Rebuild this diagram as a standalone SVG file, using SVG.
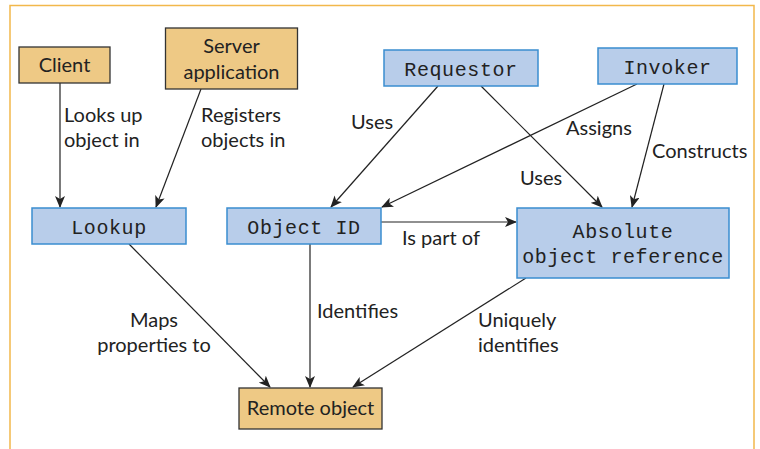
<svg xmlns="http://www.w3.org/2000/svg" width="760" height="449" viewBox="0 0 760 449">
<defs>
<marker id="ah" viewBox="0 0 12 10" refX="11" refY="5" markerWidth="12" markerHeight="10" markerUnits="userSpaceOnUse" orient="auto">
<path d="M0,0 L12,5 L0,10 L3,5 Z" fill="#222"/>
</marker>
<style>
.frame{fill:none;stroke:#F2B84B;stroke-width:1.5}
.on{fill:#EEC985;stroke:#333;stroke-width:1.3}
.bn{fill:#B8CDEA;stroke:#3A8DD0;stroke-width:1.5}
.st{font-family:Lato,"Open Sans",sans-serif;font-size:20px;fill:#222;text-anchor:middle}
.mt{font-family:"Liberation Mono","Courier New",monospace;font-size:20px;letter-spacing:0.6px;fill:#222;text-anchor:middle}
.lb{font-family:Lato,"Open Sans",sans-serif;font-size:20px;fill:#222}
.c{fill:none;stroke:#222;stroke-width:1.2;marker-end:url(#ah)}
</style>
</defs>
<rect width="760" height="449" fill="#fff"/>
<path class="frame" d="M10,460 V5.5 H754 V460"/>

<g id="connectors">
<line class="c" x1="60" y1="83" x2="60" y2="207"/>
<line class="c" x1="201" y1="89" x2="156" y2="207"/>
<line class="c" x1="438" y1="86" x2="331" y2="207"/>
<line class="c" x1="481" y1="86" x2="602" y2="207"/>
<line class="c" x1="637" y1="84" x2="382" y2="207"/>
<line class="c" x1="664" y1="84" x2="632" y2="207"/>
<line class="c" x1="381" y1="222" x2="516" y2="222"/>
<line class="c" x1="129" y1="244" x2="270" y2="387"/>
<line class="c" x1="310" y1="244" x2="310" y2="387"/>
<line class="c" x1="526" y1="278" x2="353" y2="387"/>
<text class="lb" x="64" y="122">Looks up</text>
<text class="lb" x="64" y="147">object in</text>
<text class="lb" x="201" y="122">Registers</text>
<text class="lb" x="201" y="147">objects in</text>
<text class="lb" x="351" y="129">Uses</text>
<text class="lb" x="566" y="135">Assigns</text>
<text class="lb" x="652" y="158">Constructs</text>
<text class="lb" x="520" y="185">Uses</text>
<text class="lb" x="402" y="245">Is part of</text>
<text class="lb" x="317" y="318">Identifies</text>
<text class="lb" x="154" y="327" text-anchor="middle">Maps</text>
<text class="lb" x="154" y="352" text-anchor="middle">properties to</text>
<text class="lb" x="478" y="327">Uniquely</text>
<text class="lb" x="478" y="352">identifies</text>
</g>

<g id="client">
<rect class="on" x="19" y="47" width="91" height="36"/>
<text class="st" x="64.5" y="72">Client</text>
</g>
<g id="server">
<rect class="on" x="165.5" y="28" width="132" height="61"/>
<text class="st" x="231.5" y="53">Server</text>
<text class="st" x="231.5" y="79">application</text>
</g>
<g id="requestor">
<rect class="bn" x="384" y="50" width="154" height="36"/>
<text class="mt" x="461" y="76">Requestor</text>
</g>
<g id="invoker">
<rect class="bn" x="598" y="48" width="139" height="36"/>
<text class="mt" x="667.5" y="74">Invoker</text>
</g>
<g id="lookup">
<rect class="bn" x="32" y="208" width="154" height="36"/>
<text class="mt" x="109" y="234">Lookup</text>
</g>
<g id="objectid">
<rect class="bn" x="227" y="208" width="154" height="36"/>
<text class="mt" x="304" y="234">Object ID</text>
</g>
<g id="absref">
<rect class="bn" x="517" y="208" width="212" height="70"/>
<text class="mt" x="623" y="238">Absolute</text>
<text class="mt" x="623" y="263">object reference</text>
</g>
<g id="remote">
<rect class="on" x="239" y="388" width="143" height="41"/>
<text class="st" x="310.5" y="415">Remote object</text>
</g>
</svg>
